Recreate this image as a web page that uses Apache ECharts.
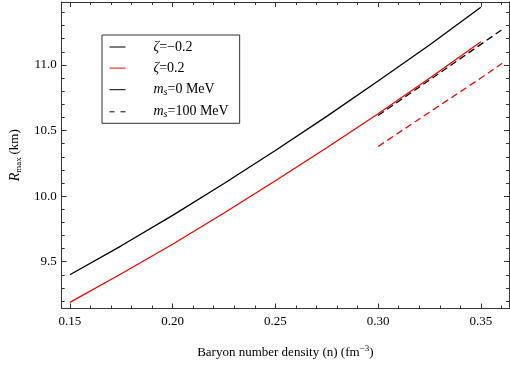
<!DOCTYPE html>
<html>
<head>
<meta charset="utf-8">
<script src="https://cdn.jsdelivr.net/npm/echarts@6/dist/echarts.min.js"></script>
<style>html,body{margin:0;padding:0;background:#fff}#c{width:510px;height:365px}</style>
</head>
<body>
<div id="c"></div>
<script>
// ---- data ----
var nSolid = [0.15, 0.175, 0.20, 0.225, 0.25, 0.275, 0.30, 0.325, 0.35];
var zetaNeg_ms0 = [9.40, 9.621, 9.853, 10.096, 10.348, 10.608, 10.878, 11.152, 11.44];
var zetaPos_ms0 = [9.19, 9.408, 9.633, 9.871, 10.117, 10.369, 10.628, 10.898, 11.177];
var nDashed = [0.30, 0.325, 0.35, 0.3604];
var zetaNeg_ms100 = [10.615, 10.885, 11.157, 11.27];
var zetaPos_ms100 = [10.378, 10.64, 10.90, 11.013];
var xMajorTicks = [0.15, 0.20, 0.25, 0.30, 0.35];
var xMinorTicks = [0.15, 0.16, 0.17, 0.18, 0.19, 0.20, 0.21, 0.22, 0.23, 0.24, 0.25, 0.26, 0.27, 0.28, 0.29, 0.30, 0.31, 0.32, 0.33, 0.34, 0.35, 0.36];
var yMajorTicks = [9.5, 10.0, 10.5, 11.0];
var yMinorTicks = [9.2, 9.3, 9.4, 9.5, 9.6, 9.7, 9.8, 9.9, 10.0, 10.1, 10.2, 10.3, 10.4, 10.5, 10.6, 10.7, 10.8, 10.9, 11.0, 11.1, 11.2, 11.3, 11.4];

var X_MIN = 0.146, X_MAX = 0.3637, Y_MIN = 9.143, Y_MAX = 11.48;
var FONT = '"Liberation Serif", "DejaVu Serif", serif';
var AX = '#333';

function pairs(xs, ys) { return xs.map(function (x, i) { return [x, ys[i]]; }); }

function xAx(pos, ticks, len, labels, line) {
  return {
    type: 'value', min: X_MIN, max: X_MAX, position: pos,
    axisLine: { show: line, lineStyle: { color: AX, width: 1 } },
    axisTick: { show: true, inside: true, length: len, customValues: ticks, lineStyle: { color: AX, width: 1 } },
    axisLabel: labels ? { show: true, customValues: ticks, formatter: function (v) { return v.toFixed(2); },
      margin: 7, fontFamily: FONT, fontSize: 13, color: '#000' } : { show: false },
    splitLine: { show: false }
  };
}
function yAx(pos, ticks, len, labels, line) {
  return {
    type: 'value', min: Y_MIN, max: Y_MAX, position: pos,
    axisLine: { show: line, lineStyle: { color: AX, width: 1 } },
    axisTick: { show: true, inside: true, length: len, customValues: ticks, lineStyle: { color: AX, width: 1 } },
    axisLabel: labels ? { show: true, customValues: ticks, formatter: function (v) { return v.toFixed(1); },
      margin: 5, fontFamily: FONT, fontSize: 13, color: '#000' } : { show: false },
    splitLine: { show: false }
  };
}

var xAxes = [xAx('bottom', xMajorTicks, 5, true, true), xAx('bottom', xMinorTicks, 3, false, false),
             xAx('top', xMajorTicks, 5, false, true), xAx('top', xMinorTicks, 3, false, false)];
xAxes[0].name = '{n|Baryon number density (n) (fm}{sup|\u22123}{n|)}';
xAxes[0].nameLocation = 'middle';
xAxes[0].nameGap = 36;
xAxes[0].nameTextStyle = { fontFamily: FONT, fontSize: 13, color: '#000',
  rich: { n: { fontFamily: FONT, fontSize: 13, color: '#000', lineHeight: 16 },
          sup: { fontFamily: FONT, fontSize: 9, color: '#000', lineHeight: 16, verticalAlign: 'top', padding: [0, 0, 6, 0] } } };

var yAxes = [yAx('left', yMajorTicks, 5, true, true), yAx('left', yMinorTicks, 3, false, false),
             yAx('right', yMajorTicks, 5, false, true), yAx('right', yMinorTicks, 3, false, false)];
yAxes[0].name = '{i|R}{sub|max}{n|\u2009(km)}';
yAxes[0].nameLocation = 'middle';
yAxes[0].nameGap = 30;
yAxes[0].nameRotate = 90;
yAxes[0].nameTextStyle = { fontFamily: FONT, fontSize: 13, color: '#000',
  rich: { i: { fontFamily: FONT, fontSize: 14, fontStyle: 'italic', color: '#000', lineHeight: 16 },
          n: { fontFamily: FONT, fontSize: 13, color: '#000', lineHeight: 16 },
          sub: { fontFamily: FONT, fontSize: 9, color: '#000', lineHeight: 16, verticalAlign: 'bottom', padding: [6, 0, 0, 0] } } };

var legendNames = ['L1', 'L2', 'L3', 'L4'];
var legendLabels = {
  L1: '{i|\u03b6}{n|=\u22120.2}',
  L2: '{i|\u03b6}{n|=0.2}',
  L3: '{i|m}{sub|s}{n|=0 MeV}',
  L4: '{i|m}{sub|s}{n|=100 MeV}'
};

function lineSeries(name, data, color, dash) {
  return { name: name, type: 'line', data: data, showSymbol: false, symbol: 'none',
    xAxisIndex: 0, yAxisIndex: 0, animation: false, silent: true,
    lineStyle: { color: color, width: 1.3, type: dash || 'solid' }, itemStyle: { color: color } };
}

var chart = echarts.init(document.getElementById('c'), null, { renderer: 'canvas' });
chart.setOption({
  animation: false,
  backgroundColor: '#fff',
  grid: { left: 59, right: 1, top: 2, bottom: 56.5, containLabel: false },
  xAxis: xAxes,
  yAxis: yAxes,
  legend: {
    data: legendNames, orient: 'vertical', left: 102, top: 35,
    padding: [5, 11, 4, 7], itemGap: 7.1, itemWidth: 16, itemHeight: 10,
    borderColor: '#333', borderWidth: 1, selectedMode: false,
    itemStyle: { opacity: 0 },
    lineStyle: { width: 1 },
    formatter: function (name) { return legendLabels[name]; },
    textStyle: { padding: [0, 0, 0, 23], fontFamily: FONT, fontSize: 14, color: '#000',
      rich: { i: { fontFamily: FONT, fontSize: 14, fontStyle: 'italic', color: '#000', lineHeight: 15 },
              n: { fontFamily: FONT, fontSize: 14, color: '#000', lineHeight: 15 },
              sub: { fontFamily: FONT, fontStyle: 'italic', fontSize: 10, color: '#000', lineHeight: 15, verticalAlign: 'bottom', padding: [5, 0, 0, 0] } } }
  },
  series: [
    lineSeries('L1', [], '#000'),
    lineSeries('L2', [], '#ff0000'),
    lineSeries('L3', [], '#000'),
    lineSeries('L4', [], '#000', [5, 6]),
    lineSeries('zetaNeg_ms0', pairs(nSolid, zetaNeg_ms0), '#000'),
    lineSeries('zetaPos_ms0', pairs(nSolid, zetaPos_ms0), '#ff0000'),
    lineSeries('zetaNeg_ms100', pairs(nDashed, zetaNeg_ms100), '#000', [7, 4]),
    lineSeries('zetaPos_ms100', pairs(nDashed, zetaPos_ms100), '#ff0000', [7, 4])
  ]
});
</script>
</body>
</html>
